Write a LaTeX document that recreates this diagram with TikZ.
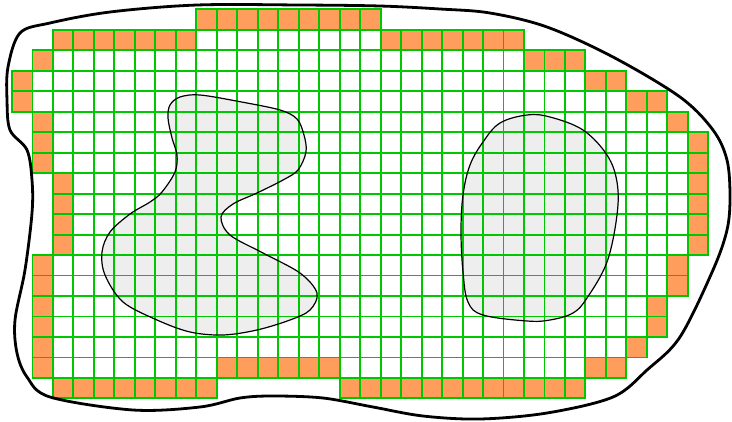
\documentclass[tikz,border=0pt]{standalone}
\usepackage{tikz}
\usetikzlibrary{calc}
\definecolor{cellorange}{HTML}{FF9D5C}
\definecolor{gridgreen}{HTML}{00C800}
\definecolor{holegray}{HTML}{EEEEEE}
\newcommand{\csz}{20.48}

\begin{document}
\begin{tikzpicture}[x=1pt,y=-1pt,
        cell/.style={draw=gridgreen,line width=1.9pt},
        bordercell/.style={fill=cellorange},
        hole/.style={fill=holegray},
        holeline/.style={draw=black,line width=1.2pt},
        outline/.style={draw=black,line width=2.8pt}]
      \useasboundingbox (0,0) rectangle (732,421);
      % boundary cells
      \foreach \r/\a/\b in {0/9/17,1/2/8,1/18/24,2/1/1,2/25/27,3/0/0,3/28/29,
          4/0/0,4/30/31,5/1/1,5/32/32,6/1/1,6/33/33,7/1/1,7/33/33,8/2/2,8/33/33,
          9/2/2,9/33/33,10/2/2,10/33/33,11/2/2,11/33/33,12/1/1,12/32/32,
          13/1/1,13/32/32,14/1/1,14/31/31,15/1/1,15/31/31,16/1/1,16/30/30,
          17/1/1,17/10/15,17/28/29,18/2/9,18/16/27}
        \foreach \c in {\a,...,\b}
          \fill[bordercell] ({12+\c*\csz},{9.3+\r*\csz}) rectangle +(\csz,\csz);
      % holes
      \fill[hole] plot[smooth cycle,tension=0.55] coordinates {
          (180,97) (200,95) (240,101.7) (280,110) (297,119) (304,135) (306,152)
          (298,170) (283,180) (257,193) (233,204) (221,217) (230,235) (263,253)
          (300,273) (317,293) (310,310) (290,320) (257,330) (223,335) (190,332)
          (157,320) (123,302) (105,275) (102,252) (110,232) (130,214) (150,202)
          (162,192) (175,172) (177,155) (172,138) (168,118) (170,105)};
      \fill[hole] plot[smooth cycle,tension=0.6] coordinates {
          (527,115) (550,117) (583,130) (607,155) (617,182) (617,215) (607,262)
          (587,298) (573,313) (550,320) (527,321) (483,315) (468,302) (463,272)
          (461,232) (463,195) (470,165) (483,142) (500,123)};
      % grid
      \foreach \r/\a/\b in {0/9/17,1/2/24,2/1/27,3/0/29,4/0/31,5/1/32,6/1/33,
          7/1/33,8/2/33,9/2/33,10/2/33,11/2/33,12/1/32,13/1/32,14/1/31,
          15/1/31,16/1/30,17/1/29,18/2/9,18/16/27}
        \foreach \c in {\a,...,\b}
          \draw[cell] ({12+\c*\csz},{9.3+\r*\csz}) rectangle +(\csz,\csz);
      % hole outlines
      \draw[holeline] plot[smooth cycle,tension=0.55] coordinates {
          (180,97) (200,95) (240,101.7) (280,110) (297,119) (304,135) (306,152)
          (298,170) (283,180) (257,193) (233,204) (221,217) (230,235) (263,253)
          (300,273) (317,293) (310,310) (290,320) (257,330) (223,335) (190,332)
          (157,320) (123,302) (105,275) (102,252) (110,232) (130,214) (150,202)
          (162,192) (175,172) (177,155) (172,138) (168,118) (170,105)};
      \draw[holeline] plot[smooth cycle,tension=0.6] coordinates {
          (527,115) (550,117) (583,130) (607,155) (617,182) (617,215) (607,262)
          (587,298) (573,313) (550,320) (527,321) (483,315) (468,302) (463,272)
          (461,232) (463,195) (470,165) (483,142) (500,123)};
      % domain boundary
      \draw[outline] plot[smooth cycle,tension=0.55] coordinates {
          (197,5) (300,5) (380,6) (440,9) (490,13) (547,27) (613,57) (680,97)
          (713,130) (727,160) (730,197) (727,230) (713,270) (680,337) (647,370)
          (613,397) (547,413) (480,419) (423,416) (373,407) (323,398) (273,396)
          (240,398) (200,407) (133,410) (50,397) (27,377) (17,353) (15,320)
          (25,270) (32,213) (32,180) (27,150) (10,130) (7,100) (8,67) (20,33)
          (50,23) (110,12)};
    \end{tikzpicture}
\end{document}
